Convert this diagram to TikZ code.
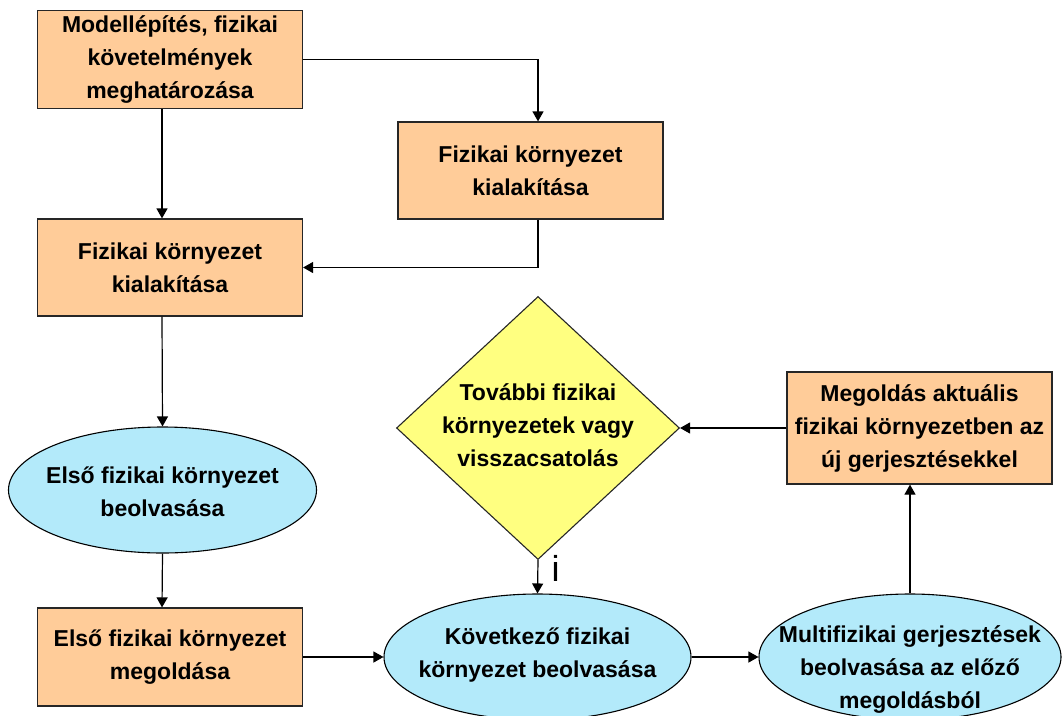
\documentclass[tikz,border=0pt]{standalone}
\usepackage{fontspec}
\setmainfont{Liberation Sans}
\usetikzlibrary{shapes.geometric,arrows.meta}
\definecolor{peach}{RGB}{255,204,153}
\definecolor{skyc}{RGB}{179,234,250}
\definecolor{paley}{RGB}{255,255,128}
\begin{document}
\begin{tikzpicture}[x=1pt,y=-1pt,
  every node/.style={inner sep=0pt},
  txt/.style={font=\bfseries\fontsize{23}{33}\selectfont,align=center},
  boxn/.style={draw=black!85,line width=1.2pt,fill=peach,minimum width=265pt,txt},
  elln/.style={ellipse,draw=black,line width=1.1pt,fill=skyc,minimum width=#1,minimum height=126pt},
  decn/.style={diamond,draw=black!85,line width=1.1pt,fill=paley,minimum width=283pt,minimum height=263pt,aspect=1.07},
  conn/.style={line width=1.2pt,-{Triangle[length=10pt,width=11pt]}}
]
\useasboundingbox (0,0) rectangle (1062,715);
\clip (0,0) rectangle (1062,715);
\coordinate (colL) at (162,0);
\coordinate (colR) at (538,0);
% nodes
\node[boxn,minimum height=98pt] (b1) at (170,59.5) {Modellépítés, fizikai\\követelmények\\meghatározása};
\node[boxn,minimum height=97pt] (b2) at (530.5,170.5) {Fizikai környezet\\kialakítása};
\node[boxn,minimum height=97pt] (b3) at (170,267.5) {Fizikai környezet\\kialakítása};
\node[elln=308pt] (e1) at (162.5,490) {};
\node[txt] (e1t) at (162.5,492) {Első fizikai környezet\\beolvasása};
\node[boxn,minimum height=98pt] (b5) at (170,657) {Első fizikai környezet\\megoldása};
\node[decn] (d) at (538,428) {};
\node[txt] (dt) at (538,425) {További fizikai\\környezetek vagy\\visszacsatolás};
\node[boxn,minimum height=112pt] (b7) at (919.5,428) {Megoldás aktuális\\fizikai környezetben az\\új gerjesztésekkel};
\node[elln=307pt] (e8) at (537.5,657) {};
\node[txt] (e8t) at (537.5,655) {Következő fizikai\\környezet beolvasása};
\node[elln=302pt] (e9) at (910,657) {};
\node[txt] (e9t) at (910,669) {Multifizikai gerjesztések\\beolvasása az előző\\megoldásból};
% connectors
\draw[conn] (b1.east) -| (b2.north -| colR);
\draw[conn] (b1.south -| colL) -- (b3.north -| colL);
\draw[conn] (b2.south -| colR) |- (b3.east);
\draw[conn] (b3.south -| colL) -- (e1.north);
\draw[conn] (e1.south) -- (b5.north -| colL);
\draw[conn] (b5.east) -- (e8.west);
\draw[conn] (e8.east) -- (e9.west);
\draw[conn] (e9.north) -- (b7.south -| e9.north);
\draw[conn] (b7.west) -- (d.east);
\draw[conn] (d.south) -- (e8.north) node[pos=0,anchor=north west,xshift=13pt,yshift=5pt,font=\fontsize{36}{36}\selectfont] (ilab) {i};
\end{tikzpicture}
\end{document}
